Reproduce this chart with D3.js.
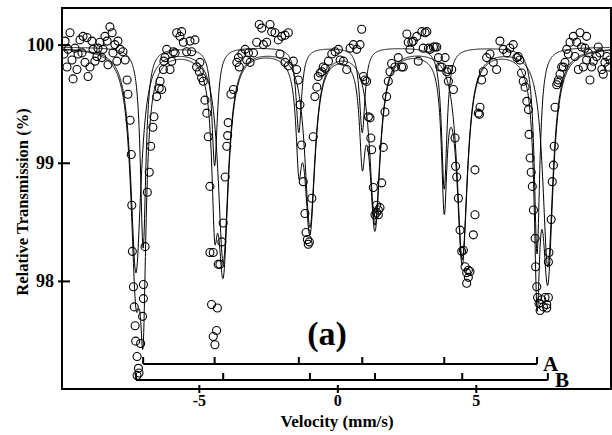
<!DOCTYPE html>
<html>
<head>
<meta charset="utf-8">
<script src="https://cdn.jsdelivr.net/npm/d3@7"></script>
<style>
  body { margin: 0; background: #fff; }
  text { font-family: "Liberation Serif", "Times New Roman", serif; font-weight: bold; fill: #000; }
</style>
</head>
<body>
<div id="vis"></div>
<script>
const FRAME_WIDTH = 612;
const FRAME_HEIGHT = 435;
const MARGINS = {left: 62, right: 1, top: 8, bottom: 46};
const VIS_WIDTH = FRAME_WIDTH - MARGINS.left - MARGINS.right;
const VIS_HEIGHT = FRAME_HEIGHT - MARGINS.top - MARGINS.bottom;

const X_DOMAIN = [-9.94, 9.88];
const Y_DOMAIN = [97.085, 100.31];
const X_TICKS = [-5, 0, 5];
const Y_TICKS = [98, 99, 100];

// fitted sextets (line positions from the stick diagrams, mm/s)
const BASELINE = 99.98;
const A_POS = [-7.01, -4.43, -1.39, 0.90, 3.86, 7.21];
const A_DEPTH = [1.7, 1.0, 0.72, 0.72, 1.2, 1.75];
const A_WIDTH = 0.24;
const B_POS = [-7.27, -4.12, -0.99, 1.36, 4.51, 7.60];
const B_DEPTH = [1.9, 1.8, 1.5, 1.48, 1.78, 1.85];
const B_WIDTH = 0.45;

// measured points [velocity, transmission %]
const POINTS = [
  [-9.87,99.92],[-9.83,100.03],[-9.76,99.81],[-9.72,99.96],[-9.65,100.10],[-9.58,99.87],[-9.54,99.71],
  [-9.47,99.97],[-9.40,99.79],[-9.36,99.92],[-9.29,100.04],[-9.22,99.93],[-9.18,100.07],[-9.11,99.85],
  [-9.04,100.06],[-9.00,99.73],[-8.93,99.81],[-8.86,100.03],[-8.82,99.96],[-8.75,99.86],[-8.68,99.90],
  [-8.64,99.97],[-8.57,100.02],[-8.50,99.89],[-8.46,99.96],[-8.39,100.07],[-8.31,100.03],[-8.28,99.83],
  [-8.21,100.15],[-8.13,100.10],[-8.10,99.93],[-8.03,100.00],[-7.96,99.86],[-7.92,100.03],[-7.84,99.96],
  [-7.74,99.94],[-7.66,99.87],
  [-7.59,99.70],[-7.56,99.58],[-7.48,99.36],[-7.44,99.07],[-7.42,98.64],[-7.40,98.25],[-7.36,97.95],
  [-7.33,97.78],[-7.30,97.62],[-7.28,97.49],[-7.23,97.36],[-7.23,97.20],[-7.18,97.26],[-7.16,97.22],
  [-7.10,97.47],[-7.03,97.70],[-7.00,97.85],[-7.00,97.97],[-6.94,98.29],[-6.86,98.75],[-6.79,98.92],
  [-6.74,99.14],[-6.66,99.30],[-6.62,99.39],[-6.52,99.56],[-6.43,99.63],[-6.40,99.69],[-6.34,99.62],
  [-6.28,99.79],[-6.26,99.86],[-6.22,99.89],[-6.16,99.96],
  [-6.04,99.79],[-5.98,99.86],[-5.92,99.94],[-5.86,99.93],[-5.80,100.10],[-5.68,100.07],[-5.62,100.11],
  [-5.56,100.02],[-5.44,99.94],[-5.32,100.03],[-5.26,99.94],[-5.14,100.04],[-5.08,99.81],[-4.98,99.77],
  [-4.96,99.85],[-4.90,99.72],[-4.84,99.69],
  [-4.78,99.53],[-4.71,99.42],[-4.66,99.22],[-4.60,98.80],[-4.60,98.24],[-4.54,97.80],[-4.48,97.53],
  [-4.48,98.24],[-4.42,97.46],[-4.36,97.58],[-4.33,97.77],[-4.30,98.14],[-4.24,98.14],[-4.17,98.33],
  [-4.12,98.49],[-4.05,98.88],[-3.99,99.14],[-3.96,99.23],[-3.94,99.34],[-3.84,99.58],[-3.75,99.62],
  [-3.63,99.85],[-3.57,99.89],[-3.54,99.81],[-3.45,99.92],[-3.33,99.96],[-3.27,99.87],[-3.21,99.93],
  [-3.15,99.85],[-3.03,99.93],
  [-2.91,100.02],[-2.82,100.17],[-2.73,100.14],[-2.67,100.00],[-2.55,100.02],[-2.43,100.17],[-2.37,100.11],
  [-2.25,100.10],[-2.13,100.04],[-2.07,99.92],[-2.01,100.07],[-1.89,100.08],[-1.89,99.85],[-1.77,100.10],
  [-1.77,99.82],[-1.59,99.86],[-1.47,99.79],[-1.41,99.70],
  [-1.35,99.49],[-1.29,99.15],[-1.23,98.84],[-1.17,98.57],[-1.13,98.41],[-1.08,98.35],[-1.05,98.31],
  [-1.01,98.33],[-0.92,98.70],[-0.87,99.22],[-0.81,99.56],[-0.74,99.64],[-0.69,99.73],[-0.62,99.76],
  [-0.56,99.77],[-0.51,99.81],
  [-0.44,99.80],[-0.32,99.86],[-0.20,99.92],[-0.08,99.94],[0.04,99.96],[0.10,99.87],[0.22,99.86],
  [0.34,99.79],[0.46,99.97],[0.58,100.00],[0.70,99.96],[0.82,100.00],[0.88,100.13],
  [0.94,99.73],[1.00,99.70],[1.06,99.69],[1.12,99.39],[1.18,99.38],[1.21,99.21],[1.24,99.11],
  [1.30,98.79],[1.36,98.56],[1.42,98.64],[1.42,98.58],[1.48,98.60],[1.48,98.56],[1.54,98.62],
  [1.60,98.83],[1.66,99.13],[1.72,99.43],[1.78,99.56],[1.84,99.69],[1.90,99.77],[1.96,99.84],
  [2.08,99.81],[2.20,99.89],[2.32,99.81],[2.38,99.81],[2.51,100.09],[2.56,100.02],[2.62,99.96],
  [2.69,100.02],[2.74,100.03],[2.87,100.07],[2.92,99.86],[3.05,100.11],[3.10,99.97],[3.17,100.10],
  [3.23,100.11],[3.29,99.97],[3.35,99.96],[3.47,99.98],[3.53,99.98],[3.59,99.98],[3.65,99.89],
  [3.71,99.81],[3.77,99.81],[3.89,99.89],[3.95,99.77],[4.01,99.79],[4.01,99.69],[4.13,99.79],[4.19,99.62],
  [4.25,99.21],[4.27,98.97],[4.31,98.88],[4.37,98.70],[4.43,98.43],[4.49,98.25],[4.55,98.26],
  [4.61,98.12],[4.67,98.07],[4.67,97.98],[4.73,98.09],[4.73,98.03],[4.79,98.08],[4.91,98.39],
  [4.97,98.56],[4.97,98.94],[5.09,99.42],[5.13,99.41],[5.15,99.47],[5.21,99.70],
  [5.27,99.77],[5.39,99.89],[5.51,99.92],[5.63,99.85],[5.75,99.79],[5.87,100.03],[5.99,99.96],
  [6.12,99.93],[6.23,99.97],[6.35,100.00],[6.48,99.89],[6.53,99.90],[6.59,99.87],[6.65,99.76],
  [6.71,99.69],[6.78,99.64],
  [6.84,99.52],[6.90,99.45],[6.92,99.24],[6.96,99.04],[7.00,98.92],[7.04,98.80],[7.08,98.60],
  [7.14,98.36],[7.16,98.12],[7.20,97.95],[7.23,97.86],[7.28,97.81],[7.32,97.75],[7.38,97.84],
  [7.44,97.78],[7.50,97.86],[7.56,97.80],[7.56,97.77],[7.62,97.86],[7.62,98.16],[7.64,98.24],
  [7.72,98.52],[7.76,98.84],[7.80,98.98],[7.83,99.14],[7.86,99.47],[7.92,99.66],[7.96,99.68],
  [7.98,99.70],[8.04,99.75],[8.10,99.81],
  [8.16,99.81],[8.22,99.85],[8.28,99.96],[8.34,99.92],[8.40,100.02],[8.52,100.07],[8.58,99.90],
  [8.64,100.02],[8.70,99.79],[8.76,100.10],[8.82,99.98],[8.88,99.81],[8.94,99.97],[9.00,99.87],
  [9.00,100.07],[9.06,99.93],[9.12,99.70],[9.18,99.81],[9.24,99.86],[9.36,99.90],[9.42,99.98],
  [9.48,99.93],[9.55,99.79],[9.60,99.75],[9.66,99.85],[9.73,99.90],[9.78,99.81],[9.84,99.87]
];

const X_SCALE = d3.scaleLinear().domain(X_DOMAIN).range([0, VIS_WIDTH]);
const Y_SCALE = d3.scaleLinear().domain(Y_DOMAIN).range([VIS_HEIGHT, 0]);

function absorb(v, pos, depth, width) {
  let s = 0;
  for (let i = 0; i < pos.length; i++) {
    const t = (v - pos[i]) / (width / 2);
    s += depth[i] / (1 + t * t);
  }
  return s;
}

const SVG = d3.select("#vis")
  .append("svg")
    .attr("width", FRAME_WIDTH)
    .attr("height", FRAME_HEIGHT);

SVG.append("defs").append("clipPath").attr("id", "clip")
  .append("rect").attr("width", VIS_WIDTH).attr("height", VIS_HEIGHT);

const G = SVG.append("g")
  .attr("transform", "translate(" + MARGINS.left + "," + MARGINS.top + ")");

const PLOT = G.append("g").attr("clip-path", "url(#clip)");

// fit curves: sextet A, sextet B, and their sum
const VS = d3.range(X_DOMAIN[0], X_DOMAIN[1] + 0.005, 0.01);
const LINE = d3.line().x(d => X_SCALE(d[0])).y(d => Y_SCALE(d[1]));
const CURVES = [
  VS.map(v => [v, BASELINE - absorb(v, A_POS, A_DEPTH, A_WIDTH)]),
  VS.map(v => [v, BASELINE - absorb(v, B_POS, B_DEPTH, B_WIDTH)]),
  VS.map(v => [v, BASELINE - absorb(v, A_POS, A_DEPTH, A_WIDTH) - absorb(v, B_POS, B_DEPTH, B_WIDTH)])
];
PLOT.selectAll(".fit")
  .data(CURVES)
  .enter()
  .append("path")
    .attr("d", LINE)
    .attr("fill", "none")
    .attr("stroke", "#000")
    .attr("stroke-width", 1);

// data points
PLOT.selectAll(".pt")
  .data(POINTS)
  .enter()
  .append("circle")
    .attr("cx", d => X_SCALE(d[0]))
    .attr("cy", d => Y_SCALE(d[1]))
    .attr("r", 4)
    .attr("fill", "none")
    .attr("stroke", "#000")
    .attr("stroke-width", 1.1);

// stick diagrams
function sticks(pos, y, label, lx) {
  const g = G.append("g");
  g.append("line")
    .attr("x1", X_SCALE(pos[0])).attr("x2", X_SCALE(pos[pos.length - 1]))
    .attr("y1", y).attr("y2", y)
    .attr("stroke", "#000").attr("stroke-width", 2.2);
  g.selectAll("line.t")
    .data(pos)
    .enter()
    .append("line")
      .attr("x1", d => X_SCALE(d)).attr("x2", d => X_SCALE(d))
      .attr("y1", y).attr("y2", y - 7)
      .attr("stroke", "#000").attr("stroke-width", 2);
  g.append("text")
    .attr("x", lx).attr("y", y + 7)
    .attr("font-size", 21)
    .text(label);
}
sticks(A_POS, 356, "A", 543 - MARGINS.left);
sticks(B_POS, 372, "B", 555 - MARGINS.left);

// "(a)"
G.append("text")
  .attr("x", 327 - MARGINS.left).attr("y", 345 - MARGINS.top)
  .attr("text-anchor", "middle")
  .attr("font-size", 34)
  .text("(a)");

// axes
const XAXIS = G.append("g")
  .attr("transform", "translate(0," + VIS_HEIGHT + ")")
  .call(d3.axisBottom(X_SCALE).tickValues(X_TICKS).tickFormat(d3.format("d")));
XAXIS.selectAll(".tick line").attr("y1", -4).attr("y2", 4).attr("stroke-width", 2);
XAXIS.selectAll(".tick text").attr("y", 17).attr("dy", null).attr("font-size", 16)
  .text(d => d < 0 ? "-" + Math.abs(d) : d);

const YAXIS = G.append("g")
  .call(d3.axisLeft(Y_SCALE).tickValues(Y_TICKS).tickFormat(d3.format("d")));
YAXIS.selectAll(".tick line").attr("x1", -4).attr("x2", 8).attr("stroke-width", 2);
YAXIS.selectAll(".tick text").attr("x", -8).attr("font-size", 18);
SVG.selectAll(".domain").remove();

// frame
G.append("rect")
  .attr("width", VIS_WIDTH).attr("height", VIS_HEIGHT)
  .attr("fill", "none").attr("stroke", "#000").attr("stroke-width", 2);

// axis titles
SVG.append("text")
  .attr("x", 337).attr("y", 427)
  .attr("text-anchor", "middle")
  .attr("font-size", 17)
  .text("Velocity (mm/s)");
SVG.append("text")
  .attr("transform", "translate(28,202) rotate(-90)")
  .attr("text-anchor", "middle")
  .attr("font-size", 16.5)
  .text("Relative Transmission (%)");
</script>
</body>
</html>
